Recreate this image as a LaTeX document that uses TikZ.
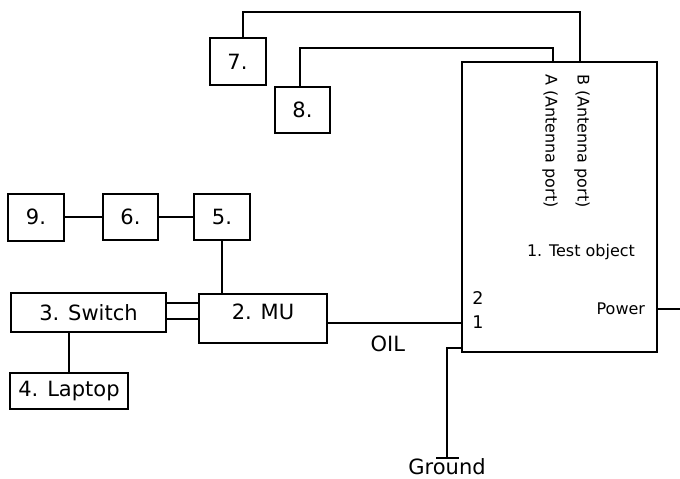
\documentclass[tikz,border=0pt]{standalone}
\usepackage{fontspec}
\setmainfont{DejaVu Sans}
\usetikzlibrary{positioning}

\begin{document}
\begin{tikzpicture}[x=1pt,y=-1pt,line width=2pt,
  unit/.style={draw,inner sep=0pt,font=\fontsize{21}{24}\selectfont},
  lbl/.style={inner sep=0pt,font=\fontsize{21}{24}\selectfont},
  small/.style={inner sep=0pt,font=\fontsize{16}{19}\selectfont}]
\useasboundingbox (0,0) rectangle (680,479);
% boxes
\node[unit,minimum width=195pt,minimum height=290pt] (obj) at (559.5,207) {};
\node[unit,minimum width=56pt,minimum height=47pt] (b7) at (237.5,61.5) {7.};
\node[unit,minimum width=55pt,minimum height=46pt] (b8) at (302.5,109.5) {8.};
\node[unit,minimum width=56pt,minimum height=47pt] (b9) at (36,217) {9.};
\node[unit,minimum width=55pt,minimum height=46pt] (b6) at (130.5,217) {6.};
\node[unit,minimum width=56pt,minimum height=46pt] (b5) at (222,217) {5.};
\node[unit,minimum width=128pt,minimum height=49pt,text height=14pt,text depth=12.4pt] (mu) at (263,318.5) {2. MU};
\node[unit,minimum width=155pt,minimum height=39pt] (sw) at (88.5,312.5) {3. Switch};
\node[unit,minimum width=118pt,minimum height=36pt] (lap) at (69,391) {4. Laptop};
% texts of the test object
\node[small,rotate=-90,anchor=west] (portBtxt) at (582,73) {B (Antenna port)};
\node[small,rotate=-90,anchor=west] (portAtxt) at (550,73) {A (Antenna port)};
\node[small] (objtxt) at (581,252) {1. Test object};
\node[small,font=\fontsize{17.5}{20}\selectfont] (in2) at (478,298) {2};
\node[small,font=\fontsize{17.5}{20}\selectfont] (in1) at (478,322) {1};
\node[small,anchor=east] (pwrtxt) at ([xshift=-12pt,yshift=-102pt]obj.east) {Power};
% antenna cables
\coordinate (portB) at (580,62);
\coordinate (portA) at (553,62);
\draw ([xshift=5.5pt]b7.north) -- ++(0,-25) -| (portB);
\draw ([xshift=-2.5pt]b8.north) -- ++(0,-38) -| (portA);
% chain
\draw (b9.east) -- (b6.west);
\draw (b6.east) -- (b5.west);
\draw (b5.south) -- (b5.south |- mu.north);
\draw ([yshift=9.5pt]sw.east) -- ([yshift=9.5pt]sw.east -| mu.west);
\draw ([yshift=-6.5pt]sw.east) -- ([yshift=-6.5pt]sw.east -| mu.west);
\draw (lap.north) -- (lap.north |- sw.south);
\draw ([yshift=-4.5pt]mu.east) -- ([yshift=-4.5pt]mu.east -| obj.west)
  node[lbl,pos=0.45,below=12pt] (oil) {OIL};
% power and ground
\coordinate (pwr) at (680,309);
\draw ([yshift=-102pt]obj.east) -- (pwr);
\coordinate (gnd) at (447,458);
\draw ([yshift=-141pt]obj.west) -| (gnd);
\draw ([xshift=-11pt]gnd) -- ([xshift=12pt]gnd);
\node[lbl,anchor=base] (ground) at (447,474) {Ground};
\end{tikzpicture}
\end{document}
